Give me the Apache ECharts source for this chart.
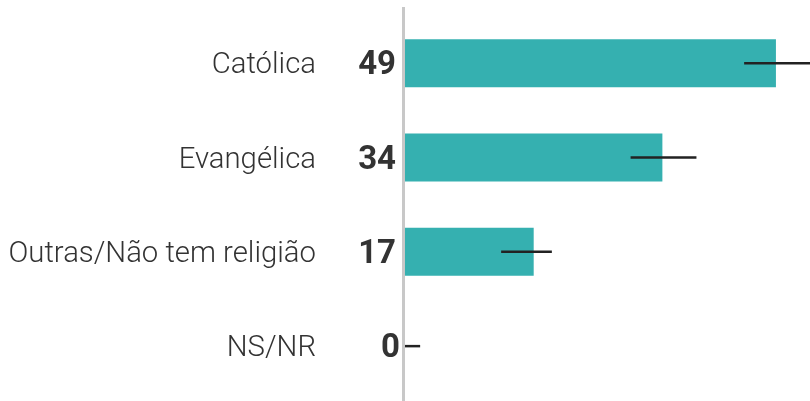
<!DOCTYPE html>
<html><head><meta charset="utf-8">
<script src="https://cdn.jsdelivr.net/npm/echarts@6/dist/echarts.min.js"></script>
<style>html,body{margin:0;padding:0;background:#fff}#c{width:810px;height:401px}</style>
</head><body><div id="c"></div>
<script>
const categories = ['Católica', 'Evangélica', 'Outras/Não tem religião', 'NS/NR'];
const values = [49, 34, 17, 0];
const errLow = [44.8, 29.8, 12.7, 0];
const errHigh = [54, 38.5, 19.4, 2.0];

const chart = echarts.init(document.getElementById('c'));
chart.setOption({
  animation: false,
  grid: { left: 405, right: 0, top: 16, bottom: 7.7, containLabel: false },
  xAxis: { type: 'value', min: 0, max: 53.5, show: false },
  yAxis: {
    type: 'category', data: categories, inverse: true,
    axisLine: { show: false }, axisTick: { show: false },
    axisLabel: {
      margin: 89,
      formatter: v => '{a|' + v + '}',
      rich: { a: { fontFamily: 'Roboto', fontWeight: 300, fontSize: 29.3, color: '#333', padding: [6, 0, 0, 0] } }
    }
  },
  series: [
    {
      type: 'bar',
      data: values.map(v => v === 0 ? { value: v, label: { distance: 5 } } : v),
      barWidth: 48,
      itemStyle: { color: '#35b0b0' },
      label: { show: true, position: 'left', distance: 9, offset: [0, 3], fontFamily: 'Roboto', fontWeight: 'bold', fontSize: 33, color: '#333' }
    },
    {
      type: 'custom',
      data: categories.map((c, i) => [i, errLow[i], errHigh[i]]),
      renderItem: function (params, api) {
        const i = api.value(0);
        const a = api.coord([api.value(1), i]);
        const b = api.coord([api.value(2), i]);
        return { type: 'line', shape: { x1: a[0], y1: a[1], x2: b[0], y2: b[1] },
                 style: { stroke: '#222', lineWidth: 2.5 } };
      },
      encode: { x: [1, 2], y: 0 },
      z: 5
    }
  ]
});
const x0 = chart.convertToPixel({ xAxisIndex: 0 }, 0);
chart.setOption({
  graphic: [{ type: 'rect', shape: { x: x0 - 3, y: 7, width: 3, height: 394 }, style: { fill: '#c8c8c8' }, z: 0 }]
});
</script></body></html>
